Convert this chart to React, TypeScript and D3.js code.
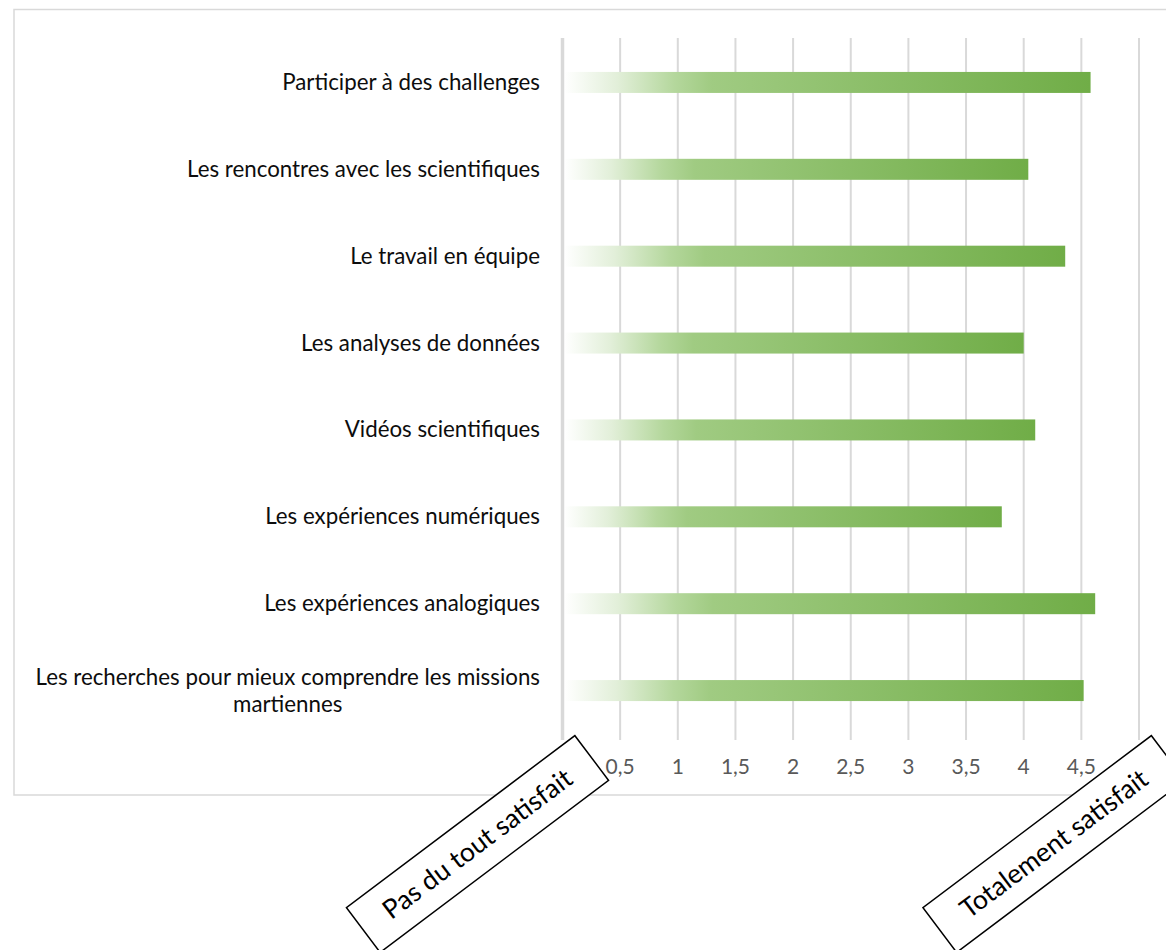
import React, { useEffect, useRef } from "react";
import * as d3 from "d3";

const categories: string[] = [
  "Participer à des challenges",
  "Les rencontres avec les scientifiques",
  "Le travail en équipe",
  "Les analyses de données",
  "Vidéos scientifiques",
  "Les expériences numériques",
  "Les expériences analogiques",
  "Les recherches pour mieux comprendre les missions martiennes",
];
const values: number[] = [4.58, 4.04, 4.36, 4.0, 4.1, 3.81, 4.62, 4.52];
const tickValues: number[] = [0, 0.5, 1, 1.5, 2, 2.5, 3, 3.5, 4, 4.5, 5];
const scaleEnds: { value: number; label: string }[] = [
  { value: 0, label: "Pas du tout satisfait" },
  { value: 5, label: "Totalement satisfait" },
];

const W = 1166;
const H = 950;
const FONT = "Lato, 'Open Sans', sans-serif";

export default function App() {
  const ref = useRef<SVGSVGElement>(null);

  useEffect(() => {
    const svg = d3.select(ref.current);
    svg.selectAll("*").remove();

    const x = d3.scaleLinear().domain([0, 5]).range([562.5, 1139]);
    const y = d3.scaleBand().domain(categories).range([39, 734]).paddingInner(0).paddingOuter(0);
    const barH = 21;

    const defs = svg.append("defs");
    const grad = defs
      .append("linearGradient")
      .attr("id", "barGrad")
      .attr("x1", "0%")
      .attr("x2", "100%")
      .attr("y1", "0%")
      .attr("y2", "0%");
    [
      [0, "#ffffff"],
      [0.1, "#e2efd9"],
      [0.21, "#b4d79c"],
      [0.28, "#a0cb82"],
      [1, "#70ad47"],
    ].forEach(([o, c]) => grad.append("stop").attr("offset", o as number).attr("stop-color", c as string));

    // chart border
    svg
      .append("rect")
      .attr("x", 14)
      .attr("y", 9.5)
      .attr("width", 1200)
      .attr("height", 785.5)
      .attr("fill", "#fff")
      .attr("stroke", "#d9d9d9")
      .attr("stroke-width", 1.5);

    // gridlines
    svg
      .append("g")
      .selectAll("line")
      .data(tickValues.filter((t) => t > 0))
      .join("line")
      .attr("x1", (d) => x(d))
      .attr("x2", (d) => x(d))
      .attr("y1", 38)
      .attr("y2", 740)
      .attr("stroke", "#d9d9d9")
      .attr("stroke-width", 2);

    // bars
    svg
      .append("g")
      .selectAll("rect")
      .data(categories)
      .join("rect")
      .attr("x", x(0) + 2)
      .attr("y", (d) => (y(d) as number) + y.bandwidth() / 2 - barH / 2)
      .attr("width", (d, i) => x(values[i]) - x(0) - 2)
      .attr("height", barH)
      .attr("fill", "url(#barGrad)");

    // axis line
    svg
      .append("line")
      .attr("x1", x(0))
      .attr("x2", x(0))
      .attr("y1", 38)
      .attr("y2", 740)
      .attr("stroke", "#d9d9d9")
      .attr("stroke-width", 3.5);

    // tick labels
    svg
      .append("g")
      .selectAll("text")
      .data(tickValues)
      .join("text")
      .attr("x", (d) => x(d))
      .attr("y", 774)
      .attr("text-anchor", "middle")
      .attr("font-family", FONT)
      .attr("font-size", 21)
      .attr("fill", "#595959")
      .text((d) => String(d).replace(".", ","));

    // category labels with wrapping
    const labelRight = 540;
    const maxW = 525;
    const lh = 27;
    const gl = svg.append("g");
    categories.forEach((c) => {
      const t = gl
        .append("text")
        .attr("font-family", FONT)
        .attr("font-size", 22.3)
        .attr("fill", "#0d0d0d")
        .attr("text-anchor", "middle");
      const words = c.split(" ");
      const lines: string[] = [];
      let cur = "";
      const probe = t.append("tspan");
      words.forEach((w) => {
        const test = cur ? cur + " " + w : w;
        probe.text(test);
        const len = (probe.node() as SVGTSpanElement).getComputedTextLength();
        if (len > maxW && cur) {
          lines.push(cur);
          cur = w;
        } else cur = test;
      });
      lines.push(cur);
      probe.remove();
      let bw = 0;
      lines.forEach((l) => {
        const s = t.append("tspan").text(l);
        bw = Math.max(bw, (s.node() as SVGTSpanElement).getComputedTextLength());
      });
      const cx = labelRight - bw / 2;
      const cy = (y(c) as number) + y.bandwidth() / 2;
      t.selectAll("tspan")
        .attr("x", cx)
        .attr("y", (_d, i) => cy + 7.5 - ((lines.length - 1) * lh) / 2 + i * lh);
    });

    // rotated end boxes
    const bw = 286;
    const bh = 56;
    scaleEnds.forEach((e) => {
      const g = svg
        .append("g")
        .attr("transform", `translate(${x(e.value) - 85},844) rotate(-37)`);
      g.append("rect")
        .attr("x", -bw / 2)
        .attr("y", -bh / 2)
        .attr("width", bw)
        .attr("height", bh)
        .attr("fill", "#fff")
        .attr("stroke", "#000")
        .attr("stroke-width", 1.5);
      g.append("text")
        .attr("x", 0)
        .attr("y", 9)
        .attr("text-anchor", "middle")
        .attr("font-family", FONT)
        .attr("font-size", 26.5)
        .attr("fill", "#000")
        .text(e.label);
    });
  }, []);

  return (
    <div style={{ position: "absolute", left: 0, top: 0 }}>
      <svg ref={ref} width={W} height={H} style={{ display: "block", background: "#fff" }} />
    </div>
  );
}
